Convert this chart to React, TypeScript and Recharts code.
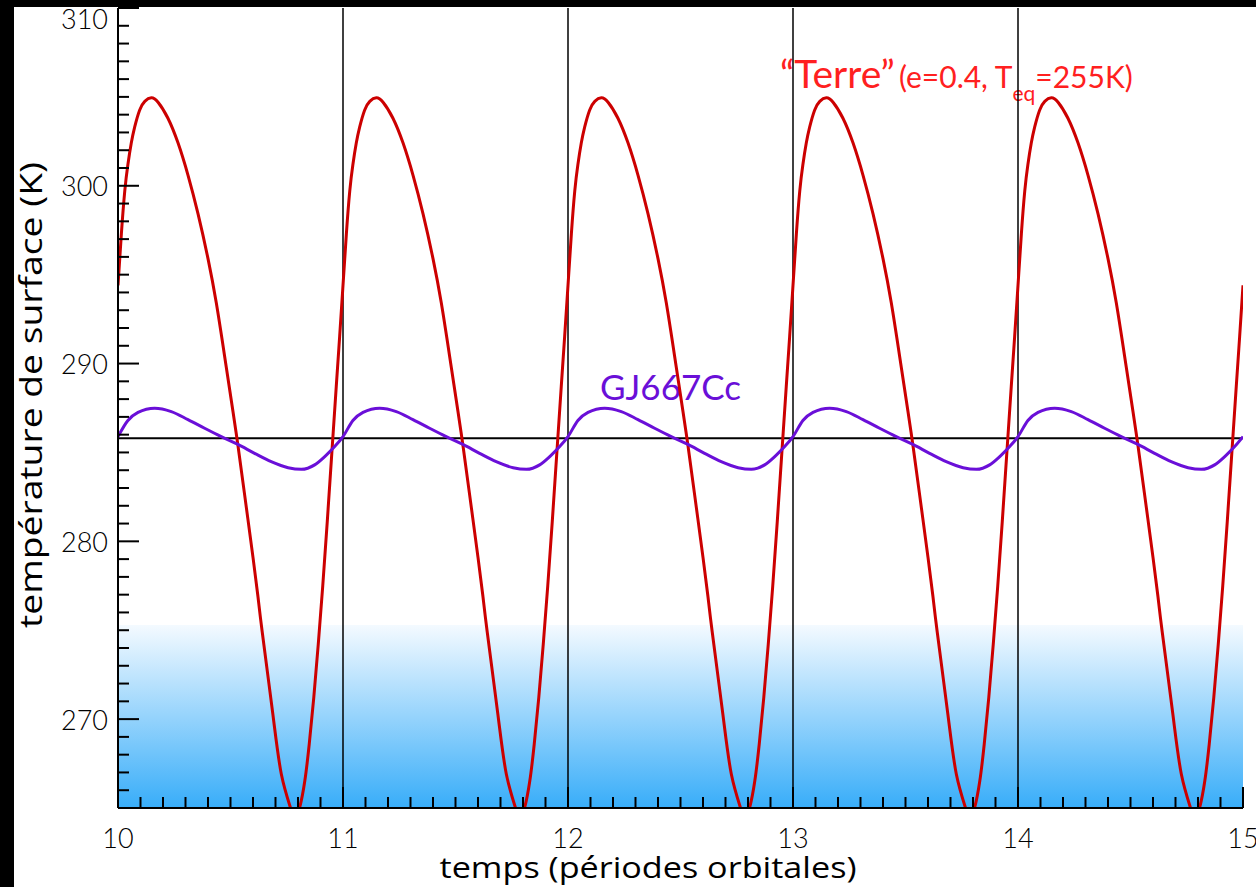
import React from 'react';
import { LineChart, Line, XAxis, YAxis, ReferenceLine, ReferenceArea } from 'recharts';

// orbital periods shown (each curve repeats identically every orbit)
const orbits = [10, 11, 12, 13, 14];
const endTime = 15;

// "Terre" (e=0.4): phase within the orbit and surface temperature (K)
const terrePhase = [0, 0.015, 0.03, 0.044, 0.059, 0.074, 0.096, 0.119, 0.148, 0.178, 0.222, 0.267, 0.311, 0.356, 0.4, 0.437, 0.474, 0.511, 0.533, 0.563, 0.6, 0.622, 0.641, 0.689, 0.726, 0.767, 0.787, 0.807, 0.83, 0.85, 0.87, 0.89, 0.91, 0.93, 0.95, 0.97, 0.985];
const terreTemp = [294.4, 297.3, 299.7, 301.2, 302.4, 303.3, 304.25, 304.75, 304.95, 304.7, 303.8, 302.4, 300.6, 298.4, 295.9, 293.4, 290.4, 287.3, 285.4, 282.6, 279.1, 276.9, 274.9, 270.2, 266.9, 265.0, 264.4, 265.0, 266.5, 268.6, 271.2, 274.2, 277.5, 281.1, 284.9, 288.7, 291.5];

// GJ667Cc: phase within the orbit and surface temperature (K)
const gjPhase = [0, 0.044, 0.089, 0.163, 0.237, 0.311, 0.385, 0.459, 0.533, 0.607, 0.681, 0.756, 0.815, 0.874, 0.919, 0.963];
const gjTemp = [285.89, 286.8, 287.25, 287.49, 287.3, 286.85, 286.36, 285.89, 285.45, 284.95, 284.48, 284.14, 284.05, 284.3, 284.77, 285.33];

// reference values
const meanTemp = 285.8;
const orbitLines = [11, 12, 13, 14];
const iceTop = 275.3;
const yDomain = [265, 310];
const xDomain = [10, 15];
const yMajor = [270, 280, 290, 300, 310];
const xMajor = [10, 11, 12, 13, 14, 15];

const yTicks = Array.from({ length: 46 }, (_, i) => 265 + i);
const xTicks = Array.from({ length: 51 }, (_, i) => Math.round((10 + i * 0.1) * 10) / 10);

const buildSeries = (phase: number[], temp: number[]) => {
  const rows: { t: number; temp: number }[] = [];
  orbits.forEach((o) => phase.forEach((p, i) => rows.push({ t: o + p, temp: temp[i] })));
  rows.push({ t: endTime, temp: temp[0] });
  return rows;
};

const terreData = buildSeries(terrePhase, terreTemp);
const gjData = buildSeries(gjPhase, gjTemp);

const FONT = 'Lato, "Open Sans", sans-serif';
const TITLE_FONT = '"Open Sans", Lato, sans-serif';
const isMajor = (v: number, majors: number[]) => majors.some((m) => Math.abs(m - v) < 1e-6);

const LeftTick = (props: any) => {
  const { x, y, payload } = props;
  const major = isMajor(payload.value, yMajor);
  return (
    <g>
      <line x1={x} y1={y} x2={x + (major ? 21 : 11)} y2={y} stroke="#000" strokeWidth={2} />
      {major && (
        <text x={x - 10} y={Math.max(y, 18)} textAnchor="end" dominantBaseline="central" fontSize={27} fontWeight={300} fontFamily={FONT} fill="#000">
          {payload.value}
        </text>
      )}
    </g>
  );
};

const RightTick = (props: any) => {
  const { x, y, payload } = props;
  const major = isMajor(payload.value, yMajor);
  return <line x1={x} y1={y} x2={x - (major ? 21 : 11)} y2={y} stroke="#000" strokeWidth={2} />;
};

const BottomTick = (props: any) => {
  const { x, y, payload } = props;
  const major = isMajor(payload.value, xMajor);
  return (
    <g>
      <line x1={x} y1={y} x2={x} y2={y - (major ? 21 : 11)} stroke="#000" strokeWidth={2} />
      {major && (
        <text x={x} y={y + 29} textAnchor="middle" dominantBaseline="central" fontSize={27} fontWeight={300} fontFamily={FONT} fill="#000">
          {payload.value}
        </text>
      )}
    </g>
  );
};

const TopTick = (props: any) => {
  const { x, y, payload } = props;
  const major = isMajor(payload.value, xMajor);
  return <line x1={x} y1={y} x2={x} y2={y + (major ? 21 : 11)} stroke="#000" strokeWidth={2} />;
};

export default function App() {
  return (
    <div style={{ position: 'absolute', left: 0, top: 0, width: 1256, height: 887, background: '#fff', overflow: 'hidden' }}>
      <div style={{ position: 'absolute', left: 0, top: 0, width: 14, height: 887, background: '#000' }} />
      <div style={{ position: 'absolute', left: 0, top: 0, width: 1256, height: 7, background: '#000' }} />
      <div style={{ position: 'absolute', left: 0, top: 0 }}>
        <LineChart width={1256} height={887} margin={{ top: 8, right: 13, bottom: 0, left: 0 }}>
          <defs>
            <linearGradient id="iceFade" x1="0" y1="0" x2="0" y2="1">
              <stop offset="0%" stopColor="#F4FAFF" />
              <stop offset="100%" stopColor="#38ADF9" />
            </linearGradient>
          </defs>
          <XAxis
            dataKey="t"
            type="number"
            domain={xDomain}
            ticks={xTicks}
            interval={0}
            allowDataOverflow
            height={79}
            tickSize={0}
            tickMargin={0}
            tickLine={false}
            axisLine={{ stroke: '#000', strokeWidth: 2 }}
            tick={<BottomTick />}
          />
          <XAxis
            xAxisId="top"
            orientation="top"
            dataKey="t"
            type="number"
            domain={xDomain}
            ticks={xTicks}
            interval={0}
            allowDataOverflow
            height={0}
            tickSize={0}
            tickMargin={0}
            tickLine={false}
            axisLine={{ stroke: '#000', strokeWidth: 2 }}
            tick={<TopTick />}
          />
          <YAxis
            type="number"
            domain={yDomain}
            ticks={yTicks}
            interval={0}
            allowDataOverflow
            width={118}
            tickSize={0}
            tickMargin={0}
            tickLine={false}
            axisLine={{ stroke: '#000', strokeWidth: 2 }}
            tick={<LeftTick />}
          />
          <YAxis
            yAxisId="right"
            orientation="right"
            type="number"
            domain={yDomain}
            ticks={yTicks}
            interval={0}
            allowDataOverflow
            width={0}
            tickSize={0}
            tickMargin={0}
            tickLine={false}
            axisLine={{ stroke: '#000', strokeWidth: 2 }}
            tick={<RightTick />}
          />
          <ReferenceArea x1={xDomain[0]} x2={xDomain[1]} y1={yDomain[0]} y2={iceTop} fill="url(#iceFade)" fillOpacity={1} stroke="none" />
          {orbitLines.map((o) => (
            <ReferenceLine key={o} x={o} stroke="#000" strokeWidth={1.5} />
          ))}
          <ReferenceLine y={meanTemp} stroke="#000" strokeWidth={2} />
          <Line data={terreData} dataKey="temp" type="natural" stroke="#CC0000" strokeWidth={3} dot={false} isAnimationActive={false} />
          <Line data={gjData} dataKey="temp" type="monotone" stroke="#6A0FD8" strokeWidth={3} dot={false} isAnimationActive={false} />
          <text x={780} y={88} fill="#FF2020" fontFamily={FONT}>
            <tspan fontSize={39}>“Terre”</tspan>
            <tspan fontSize={30} dx={4}>(e=0.4, T</tspan>
            <tspan fontSize={21} dy={13}>eq</tspan>
            <tspan fontSize={30} dy={-13}>=255K)</tspan>
          </text>
          <text x={600} y={400} fill="#6A0FD8" fontFamily={FONT} fontSize={35}>GJ667Cc</text>
          <text x={648} y={878} textAnchor="middle" fontFamily={TITLE_FONT} fontSize={30} textLength={417} lengthAdjust="spacingAndGlyphs" fill="#000">temps (périodes orbitales)</text>
          <text transform="translate(42, 395) rotate(-90)" textAnchor="middle" fontFamily={TITLE_FONT} fontSize={31} textLength={466} lengthAdjust="spacingAndGlyphs" fill="#000">température de surface (K)</text>
        </LineChart>
      </div>
    </div>
  );
}
